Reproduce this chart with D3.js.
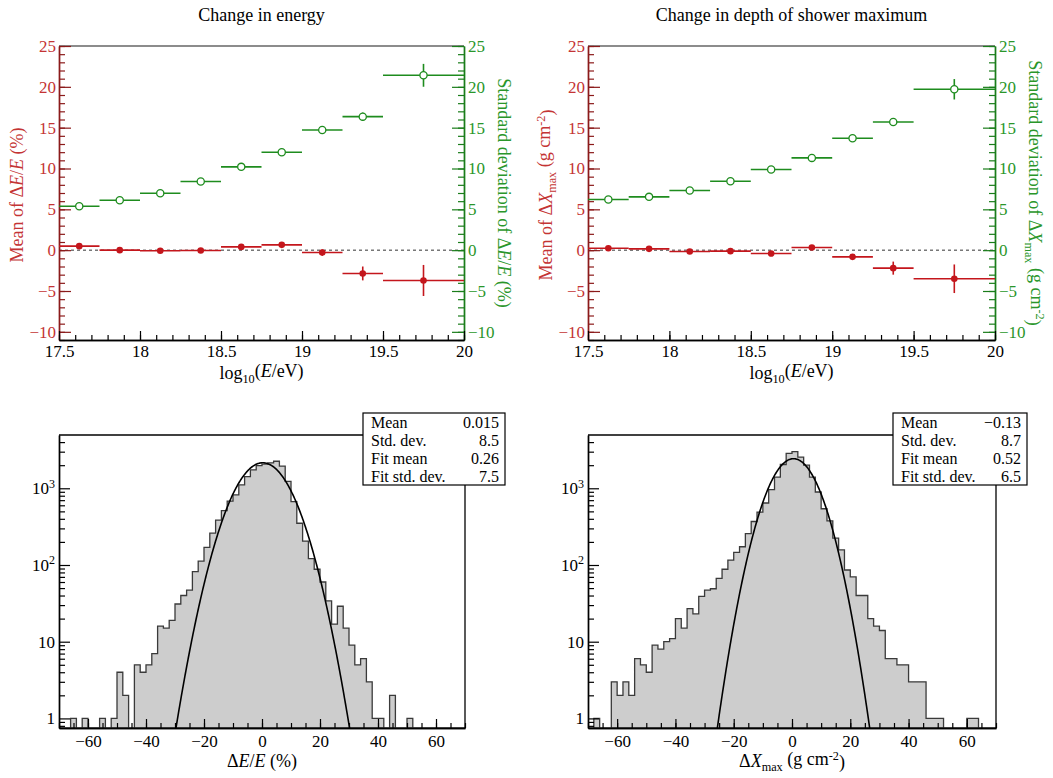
<!DOCTYPE html>
<html><head><meta charset="utf-8">
<script src="https://cdn.jsdelivr.net/npm/d3@7"></script>
<style>body{margin:0;background:#fff} svg{display:block}</style>
</head><body>
<svg id="chart" width="1053" height="778"></svg>
<script>
// ---------------- data ----------------
const binEdges   = [17.5, 17.75, 18, 18.25, 18.5, 18.75, 19, 19.25, 19.5, 20];
const binCenters = [17.625, 17.875, 18.125, 18.375, 18.625, 18.875, 19.125, 19.375, 19.75];

const meanDE    = [0.49, 0.00, -0.08, -0.04, 0.40, 0.65, -0.29, -2.85, -3.71];
const meanDEErr = [0.15, 0.10, 0.10, 0.12, 0.15, 0.20, 0.40, 0.85, 1.90];
const sdDE      = [5.38, 6.12, 6.97, 8.40, 10.2, 11.99, 14.72, 16.35, 21.41];
const sdDEErr   = [0.10, 0.10, 0.12, 0.15, 0.20, 0.25, 0.30, 0.50, 1.40];

const meanDX    = [0.24, 0.16, -0.16, -0.12, -0.41, 0.33, -0.82, -2.20, -3.50];
const meanDXErr = [0.10, 0.10, 0.10, 0.10, 0.15, 0.20, 0.35, 0.80, 1.75];
const sdDX      = [6.20, 6.53, 7.30, 8.44, 9.87, 11.30, 13.70, 15.70, 19.70];
const sdDXErr   = [0.10, 0.10, 0.12, 0.15, 0.20, 0.25, 0.30, 0.45, 1.25];

const topXDomain = [17.5, 20];
const topYDomain = [-11, 25];
const topXMajor  = [17.5, 18, 18.5, 19, 19.5, 20];
const topYMajor  = [-10, -5, 0, 5, 10, 15, 20, 25];

// histograms: bins of width 2 starting at -70
const histLow = -70, histWidth = 2;
const countsDE = [0,0,1,0,1,0,0,1,0,1, 4,2,0,5,4,5,7,16,15,19,
                  31,40,47,82,112,170,260,385,510,682, 820,1106,1423,1740,1980,2060,2150,2250,1950,1230,
                  670,350,205,121,88,60,34,17,29,15, 9,5,6,3,1,1,0,2,0,0,
                  1,0,0,0,0,0,0,0,0,0];
const countsDX = [0,1,0,0,3,2,3,2,6,5, 4,9,8,10,11,20,15,27,23,39,
                  47,49,67,88,116,146,173,257,369,489, 643,961,1394,2043,2850,3000,2550,2000,1394,895,
                  541,377,224,157,86,70,40,40,20,16, 14,6,6,5,5,3,3,3,1,1,
                  1,0,0,0,0,1,1,0,0,0];
const histXDomain = [-70, 70];
const histYDomain = [0.75, 4950];
const histXMajor = [-60, -40, -20, 0, 20, 40, 60];
const histYMajor = [1, 10, 100, 1000];

const fitE = {mean: 0.26, sigma: 7.5, amp: 2150};
const fitX = {mean: 0.52, sigma: 6.5, amp: 2430};

const statLabels = ["Mean", "Std. dev.", "Fit mean", "Fit std. dev."];
const statE = ["0.015", "8.5", "0.26", "7.5"];
const statX = ["\u22120.13", "8.7", "0.52", "6.5"];

// ---------------- drawing ----------------
const FONT = '"Liberation Serif","Times New Roman",serif';
const RED = "#c4161c", RED_AX = "#8b1a1a", RED_TXT = "#c43434";
const GREEN = "#1e8c1e", GREEN_AX = "#1a7d1a", GREEN_TXT = "#2a962a";
const svg = d3.select("#chart").attr("font-family", FONT);
const fmt = d => d < 0 ? "\u2212" + Math.abs(d) : String(d);

function styleAxis(sel, lineColor, textColor, fs) {
  sel.attr("font-family", FONT).attr("font-size", fs || 17);
  sel.select(".domain").attr("stroke", lineColor).attr("stroke-width", 1.4);
  sel.selectAll(".tick line").attr("stroke", lineColor).attr("stroke-width", 1.2);
  sel.selectAll(".tick text").attr("fill", textColor);
}

function addRich(parent, parts, attrs) {
  const t = parent.append("text");
  Object.entries(attrs).forEach(([k, v]) => t.attr(k, v));
  parts.forEach(p => {
    const s = t.append("tspan").text(p.t);
    if (p.i) s.attr("font-style", "italic");
    if (p.sub) s.attr("font-size", "0.68em").attr("dy", "0.3em");
    if (p.sup) s.attr("font-size", "0.68em").attr("dy", "-0.45em");
    if (p.back) s.attr("dy", p.back);
  });
  return t;
}

function topPanel(cfg) {
  const {x0, x1, y0, y1, means, meanErr, sds, sdErr, leftTitle, rightTitle, title} = cfg;
  const g = svg.append("g");
  const x = d3.scaleLinear().domain(topXDomain).range([x0, x1]);
  const y = d3.scaleLinear().domain(topYDomain).range([y1, y0]);

  // top frame line
  g.append("line").attr("x1", x0).attr("x2", x1).attr("y1", y0).attr("y2", y0)
    .attr("stroke", "#666").attr("stroke-width", 1.5);
  // zero line
  g.append("line").attr("x1", x0).attr("x2", x1).attr("y1", y(0)).attr("y2", y(0))
    .attr("stroke", "#333").attr("stroke-width", 1).attr("stroke-dasharray", "3,3");

  // left axis
  const gl = g.append("g").attr("transform", `translate(${x0},0)`);
  gl.call(d3.axisLeft(y).tickValues(d3.range(-11, 26)).tickSize(-6).tickSizeOuter(0).tickFormat(""));
  styleAxis(gl, RED_AX, RED_TXT);
  const glm = g.append("g").attr("transform", `translate(${x0},0)`);
  glm.call(d3.axisLeft(y).tickValues(topYMajor).tickSize(-12).tickSizeOuter(0).tickPadding(3).tickFormat(fmt));
  styleAxis(glm, RED_AX, RED_TXT);

  // right axis
  const gr = g.append("g").attr("transform", `translate(${x1},0)`);
  gr.call(d3.axisRight(y).tickValues(d3.range(-11, 26)).tickSize(-6).tickSizeOuter(0).tickFormat(""));
  styleAxis(gr, GREEN_AX, GREEN_TXT);
  const grm = g.append("g").attr("transform", `translate(${x1},0)`);
  grm.call(d3.axisRight(y).tickValues(topYMajor).tickSize(-12).tickSizeOuter(0).tickPadding(4).tickFormat(fmt));
  styleAxis(grm, GREEN_AX, GREEN_TXT);

  // bottom axis
  const gb = g.append("g").attr("transform", `translate(0,${y1})`);
  gb.call(d3.axisBottom(x).tickValues(d3.range(175, 201).map(d => d / 10)).tickSize(-5).tickSizeOuter(0).tickFormat(""));
  styleAxis(gb, "#000", "#000");
  const gbm = g.append("g").attr("transform", `translate(0,${y1})`);
  gbm.call(d3.axisBottom(x).tickValues(topXMajor).tickSize(-9).tickSizeOuter(0).tickPadding(5).tickFormat(d => String(d)));
  styleAxis(gbm, "#000", "#000");

  // std dev (green) series
  const sg = g.append("g");
  sds.forEach((v, i) => {
    sg.append("line").attr("x1", x(binEdges[i])).attr("x2", x(binEdges[i + 1])).attr("y1", y(v)).attr("y2", y(v))
      .attr("stroke", GREEN).attr("stroke-width", 1.6);
    sg.append("line").attr("x1", x(binCenters[i])).attr("x2", x(binCenters[i])).attr("y1", y(v - sdErr[i])).attr("y2", y(v + sdErr[i]))
      .attr("stroke", GREEN).attr("stroke-width", 1.6);
    sg.append("circle").attr("cx", x(binCenters[i])).attr("cy", y(v)).attr("r", 3.6)
      .attr("fill", "#fff").attr("stroke", GREEN).attr("stroke-width", 1.3);
  });
  // mean (red) series
  const rg = g.append("g");
  means.forEach((v, i) => {
    rg.append("line").attr("x1", x(binEdges[i])).attr("x2", x(binEdges[i + 1])).attr("y1", y(v)).attr("y2", y(v))
      .attr("stroke", RED).attr("stroke-width", 1.6);
    rg.append("line").attr("x1", x(binCenters[i])).attr("x2", x(binCenters[i])).attr("y1", y(v - meanErr[i])).attr("y2", y(v + meanErr[i]))
      .attr("stroke", RED).attr("stroke-width", 1.6);
    rg.append("circle").attr("cx", x(binCenters[i])).attr("cy", y(v)).attr("r", 3.3).attr("fill", RED);
  });

  // titles
  g.append("text").attr("x", (x0 + x1) / 2).attr("y", 21).attr("text-anchor", "middle")
    .attr("font-size", 18).text(title);
  addRich(g, [{t: "log"}, {t: "10", sub: true}, {t: "(", back: "-0.3em"}, {t: "E", i: true}, {t: "/eV)"}],
    {x: (x0 + x1) / 2, y: 379, "text-anchor": "middle", "font-size": 18});
  addRich(g, leftTitle, {transform: `translate(${cfg.lx},${(y0 + y1) / 2 + 2}) rotate(-90)`,
    "text-anchor": "middle", "font-size": 18, fill: RED_TXT});
  addRich(g, rightTitle, {transform: `translate(${cfg.rx},${(y0 + y1) / 2}) rotate(90)`,
    "text-anchor": "middle", "font-size": 18, fill: GREEN_TXT});
}

function histPanel(cfg) {
  const {x0, x1, y0, y1, counts, fit, stats, xTitle, id} = cfg;
  const g = svg.append("g");
  const x = d3.scaleLinear().domain(histXDomain).range([x0, x1]);
  const y = d3.scaleLog().domain(histYDomain).range([y1, y0]);

  g.append("clipPath").attr("id", id).append("rect")
    .attr("x", x0).attr("y", y0).attr("width", x1 - x0).attr("height", y1 - y0);
  const plot = g.append("g").attr("clip-path", `url(#${id})`);

  // histogram step path
  const pts = [];
  counts.forEach((c, i) => {
    const lo = histLow + i * histWidth, hi = lo + histWidth;
    const yy = c > 0 ? y(c) : y1;
    pts.push([x(lo), yy], [x(hi), yy]);
  });
  const path = "M" + x(histLow) + "," + y1 + pts.map(p => "L" + p[0] + "," + p[1]).join("") +
    "L" + pts[pts.length - 1][0] + "," + y1 + "Z";
  plot.append("path").attr("d", path).attr("fill", "#cdcdcd").attr("stroke", "#3a3a3a").attr("stroke-width", 1.3);

  // fit curve (Gaussian with the fitted parameters)
  const xs = d3.range(histXDomain[0], histXDomain[1] + 0.001, 0.2);
  const line = d3.line().x(d => x(d)).y(d => y(Math.max(1e-3, fit.amp * Math.exp(-((d - fit.mean) ** 2) / (2 * fit.sigma ** 2)))));
  plot.append("path").attr("d", line(xs)).attr("fill", "none").attr("stroke", "#000").attr("stroke-width", 1.6);

  // frame
  g.append("line").attr("x1", x0).attr("x2", x1).attr("y1", y0).attr("y2", y0).attr("stroke", "#000").attr("stroke-width", 1.3);
  g.append("line").attr("x1", x1).attr("x2", x1).attr("y1", y0).attr("y2", y1).attr("stroke", "#000").attr("stroke-width", 1.3);

  // y axis
  const minorY = [0.8, 0.9, 2, 3, 4, 5, 6, 7, 8, 9, 20, 30, 40, 50, 60, 70, 80, 90,
                  200, 300, 400, 500, 600, 700, 800, 900, 2000, 3000, 4000];
  const gy = g.append("g").attr("transform", `translate(${x0},0)`);
  gy.call(d3.axisLeft(y).tickValues(minorY).tickSize(-6).tickSizeOuter(0).tickFormat(""));
  styleAxis(gy, "#000", "#000");
  const gym = g.append("g").attr("transform", `translate(${x0},0)`);
  gym.call(d3.axisLeft(y).tickValues(histYMajor).tickSize(-11).tickSizeOuter(0).tickPadding(4).tickFormat(d => d < 100 ? String(d) : "10"));
  styleAxis(gym, "#000", "#000");
  gym.selectAll(".tick text").each(function (d) {
    if (d >= 100) {
      d3.select(this).append("tspan").attr("font-size", "12px").attr("dy", "-0.55em").text(Math.round(Math.log10(d)));
    }
  });

  // x axis
  const gx = g.append("g").attr("transform", `translate(0,${y1})`);
  gx.call(d3.axisBottom(x).tickValues(d3.range(-70, 71, 5)).tickSize(-5).tickSizeOuter(0).tickFormat(""));
  styleAxis(gx, "#000", "#000");
  const gxm = g.append("g").attr("transform", `translate(0,${y1})`);
  gxm.call(d3.axisBottom(x).tickValues(histXMajor).tickSize(-9).tickSizeOuter(0).tickPadding(7).tickFormat(fmt));
  styleAxis(gxm, "#000", "#000");

  addRich(g, xTitle, {x: (x0 + x1) / 2, y: 767, "text-anchor": "middle", "font-size": 18});

  // stat box
  const bx = cfg.box;
  g.append("rect").attr("x", bx.x).attr("y", bx.y).attr("width", bx.w).attr("height", bx.h)
    .attr("fill", "#fff").attr("stroke", "#000").attr("stroke-width", 1.2);
  statLabels.forEach((s, i) => {
    g.append("text").attr("x", bx.x + 8).attr("y", bx.y + 15 + i * 18).attr("font-size", 16).text(s);
    g.append("text").attr("x", bx.x + bx.w - 6).attr("y", bx.y + 15 + i * 18).attr("font-size", 16)
      .attr("text-anchor", "end").text(stats[i]);
  });
}

topPanel({x0: 59, x1: 464, y0: 46, y1: 340, means: meanDE, meanErr: meanDEErr, sds: sdDE, sdErr: sdDEErr,
  title: "Change in energy", lx: 23, rx: 498,
  leftTitle: [{t: "Mean of \u0394"}, {t: "E", i: true}, {t: "/"}, {t: "E", i: true}, {t: " (%)"}],
  rightTitle: [{t: "Standard deviation of \u0394"}, {t: "E", i: true}, {t: "/"}, {t: "E", i: true}, {t: " (%)"}]});

topPanel({x0: 588, x1: 995, y0: 46, y1: 340, means: meanDX, meanErr: meanDXErr, sds: sdDX, sdErr: sdDXErr,
  title: "Change in depth of shower maximum", lx: 552, rx: 1029,
  leftTitle: [{t: "Mean of \u0394"}, {t: "X", i: true}, {t: "max", sub: true}, {t: " (g cm", back: "-0.3em"}, {t: "-2", sup: true}, {t: ")", back: "0.45em"}],
  rightTitle: [{t: "Standard deviation of \u0394"}, {t: "X", i: true}, {t: "max", sub: true}, {t: " (g cm", back: "-0.3em"}, {t: "-2", sup: true}, {t: ")", back: "0.45em"}]});

histPanel({x0: 59, x1: 465, y0: 435, y1: 728, counts: countsDE, fit: fitE, stats: statE, id: "clipE",
  box: {x: 363, y: 413, w: 142, h: 72},
  xTitle: [{t: "\u0394"}, {t: "E", i: true}, {t: "/"}, {t: "E", i: true}, {t: " (%)"}]});

histPanel({x0: 588, x1: 996, y0: 435, y1: 728, counts: countsDX, fit: fitX, stats: statX, id: "clipX",
  box: {x: 893, y: 413, w: 134, h: 72},
  xTitle: [{t: "\u0394"}, {t: "X", i: true}, {t: "max", sub: true}, {t: " (g cm", back: "-0.3em"}, {t: "-2", sup: true}, {t: ")", back: "0.45em"}]});
</script>
</body></html>
